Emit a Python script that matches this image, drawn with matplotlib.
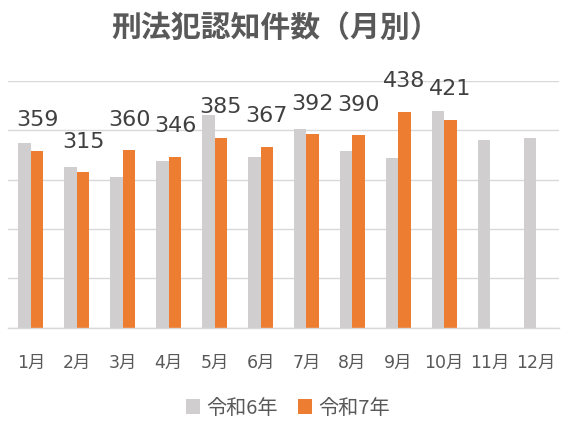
import matplotlib
matplotlib.use("Agg")
import matplotlib.pyplot as plt
from matplotlib.patches import Patch
import numpy as np

months = ["1月", "2月", "3月", "4月", "5月", "6月", "7月", "8月", "9月", "10月", "11月", "12月"]
r6 = [374, 326, 305, 338, 432, 346, 403, 358, 344, 439, 380, 385]
r7 = [359, 315, 360, 346, 385, 367, 392, 390, 438, 421]
series_names = ["令和6年", "令和7年"]

GREY = "#D0CECE"
ORANGE = "#ED7D31"
TXT = "#595959"
FAM = ["DejaVu Sans", "Noto Sans CJK JP"]

W, H = 577, 430
fig = plt.figure(figsize=(W / 100, H / 100), dpi=100)
ax = fig.add_axes([8 / W, 1 - 327.7 / H, 551 / W, (327.7 - 81) / H])

x = np.arange(len(months))
bw = 0.272
ax.bar(x - bw / 2, r6, width=bw, color=GREY, zorder=2)
x7 = np.arange(len(r7))
ax.bar(x7 + bw / 2, r7, width=bw, color=ORANGE, zorder=2)

for xi, v in zip(x7, r7):
    ax.annotate(str(v), (xi + bw / 2, v), xytext=(0, 22), textcoords="offset points",
                ha="center", va="center", fontsize=16, color="#404040", family=FAM)

ax.set_xlim(-0.5, len(months) - 0.5)
ax.set_ylim(0, 500)
ax.set_yticks(np.arange(0, 501, 100))
ax.yaxis.grid(True, color="#D9D9D9", linewidth=1, zorder=0)
ax.tick_params(axis="y", left=False, labelleft=False)
ax.set_xticks(x)
ax.set_xticklabels(months, family=FAM, fontsize=12.5, color=TXT)
ax.tick_params(axis="x", length=0, pad=19)
for s in ["top", "right", "left"]:
    ax.spines[s].set_visible(False)
ax.spines["bottom"].set_color("#D9D9D9")
ax.spines["bottom"].set_linewidth(1)

fig.text(276 / W, 1 - 28 / H, "刑法犯認知件数（月別）", ha="center", va="center",
         fontsize=21.5, fontweight="bold", color=TXT, family=["Noto Sans CJK JP", "DejaVu Sans"])

handles = [Patch(facecolor=GREY), Patch(facecolor=ORANGE)]
leg = fig.legend(handles, series_names, loc="center", bbox_to_anchor=(288 / W, 1 - 408 / H),
                 ncol=2, frameon=False, handlelength=0.7, handleheight=0.7,
                 handletextpad=0.3, columnspacing=1.0,
                 prop={"family": ["Noto Sans CJK JP", "DejaVu Sans"], "size": 14.5})
for t in leg.get_texts():
    t.set_color(TXT)

fig.savefig("out.png", dpi=100)
